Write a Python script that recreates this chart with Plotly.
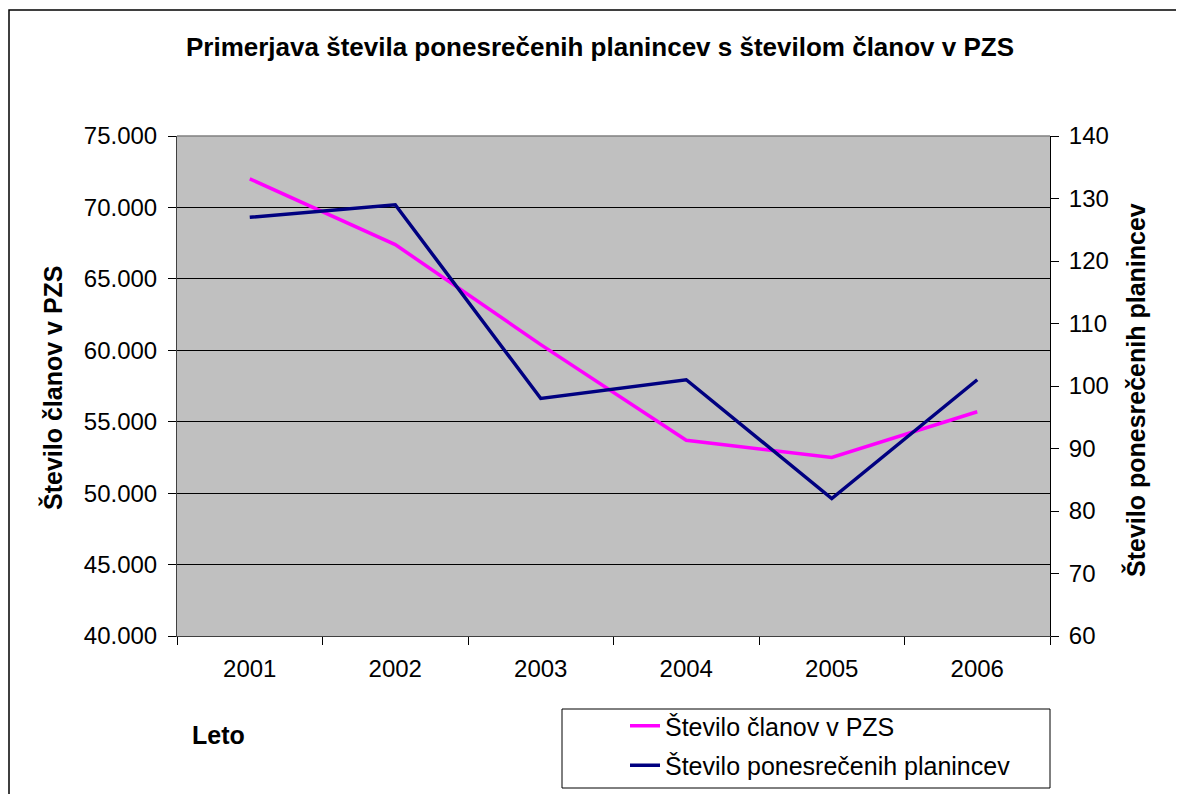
import plotly.graph_objects as go

# Chart data
years = ["2001", "2002", "2003", "2004", "2005", "2006"]
members = [72000, 67400, 60400, 53700, 52500, 55700]
injured = [127, 129, 98, 101, 82, 101]

members_name = "Število članov v PZS"
injured_name = "Število ponesrečenih planincev"

FONT = "Arial, Liberation Sans, sans-serif"

# The page body adds an 8px margin, so the figure is shifted by that amount;
# the figure is a little larger than the window so the border runs off the edge
OFF = 8
W, H = 1192, 810

# Plot area in reference pixels
PL, PR, PT, PB = 177, 1050, 136, 636
PW, PH = PR - PL, PB - PT


def px_x(x):
    # reference pixel x -> paper x
    return (x - PL) / PW


def px_y(y):
    # reference pixel y -> paper y
    return (PB - y) / PH


fig = go.Figure()

fig.add_trace(go.Scatter(
    x=years, y=members, name=members_name, mode="lines",
    line=dict(color="#FF00FF", width=3.5), yaxis="y", legendgroup="a"
))
fig.add_trace(go.Scatter(
    x=years, y=injured, name=injured_name, mode="lines",
    line=dict(color="#000080", width=3.5), yaxis="y2", legendgroup="b"
))

fig.update_layout(
    width=W, height=H,
    margin=dict(l=PL - OFF, r=W - (PR - OFF), t=PT - OFF, b=H - (PB - OFF)),
    paper_bgcolor="white",
    plot_bgcolor="#C0C0C0",
    separators=",.",
    font=dict(family=FONT, size=24, color="black"),
    title=dict(
        text="<b>Primerjava števila ponesrečenih planincev s številom članov v PZS</b>",
        font=dict(size=26),
        xref="container", x=(600 - OFF) / W, xanchor="center",
        yref="container", y=1 - (47 - OFF) / H, yanchor="middle"
    ),
    xaxis=dict(
        type="category", range=[-0.5, 5.5],
        tickson="boundaries", ticks="outside", ticklen=8, tickcolor="black",
        showline=True, linecolor="#404040", linewidth=1,
        showgrid=False, tickfont=dict(size=24), ticklabelstandoff=11
    ),
    yaxis=dict(
        range=[40000, 75000], dtick=5000, tickformat=",.0f",
        ticks="outside", ticklen=8, tickcolor="black",
        showline=True, linecolor="#404040", linewidth=1,
        showgrid=True, gridcolor="black", gridwidth=1,
        zeroline=False, tickfont=dict(size=24), ticklabelstandoff=6
    ),
    yaxis2=dict(
        range=[60, 140], dtick=10, overlaying="y", side="right",
        ticks="outside", ticklen=8, tickcolor="black",
        showline=True, linecolor="black", linewidth=1,
        showgrid=False, zeroline=False, tickfont=dict(size=24),
        ticklabelstandoff=5
    ),
    legend=dict(
        x=px_x(625), y=px_y(703),
        xanchor="left", yanchor="top",
        borderwidth=0, bgcolor="rgba(0,0,0,0)",
        font=dict(size=25), tracegroupgap=4
    ),
    showlegend=True,
)

# Grey top border of the plot area
fig.add_shape(type="line", xref="paper", yref="paper",
              x0=0, x1=1, y0=1, y1=1, line=dict(color="#808080", width=1.5))

# Outer chart border
fig.add_shape(type="rect", xref="paper", yref="paper",
              x0=px_x(9), x1=px_x(1240), y0=px_y(850), y1=px_y(10),
              line=dict(color="black", width=1.5), layer="below")

# Legend box
fig.add_shape(type="rect", xref="paper", yref="paper",
              x0=px_x(562), x1=px_x(1050), y0=px_y(788), y1=px_y(709),
              line=dict(color="black", width=1), fillcolor="white", layer="below")

# Axis titles
fig.add_annotation(text="<b>Število članov v PZS</b>", textangle=-90,
                   xref="paper", yref="paper", x=px_x(52), y=px_y(388),
                   xanchor="center", yanchor="middle",
                   showarrow=False, font=dict(size=25))
fig.add_annotation(text="<b>Število ponesrečenih planincev</b>", textangle=-90,
                   xref="paper", yref="paper", x=px_x(1135), y=px_y(390),
                   xanchor="center", yanchor="middle",
                   showarrow=False, font=dict(size=25))
fig.add_annotation(text="<b>Leto</b>", xref="paper", yref="paper",
                   x=px_x(218), y=px_y(735),
                   xanchor="center", yanchor="middle",
                   showarrow=False, font=dict(size=25))

fig.write_html("out.html")
